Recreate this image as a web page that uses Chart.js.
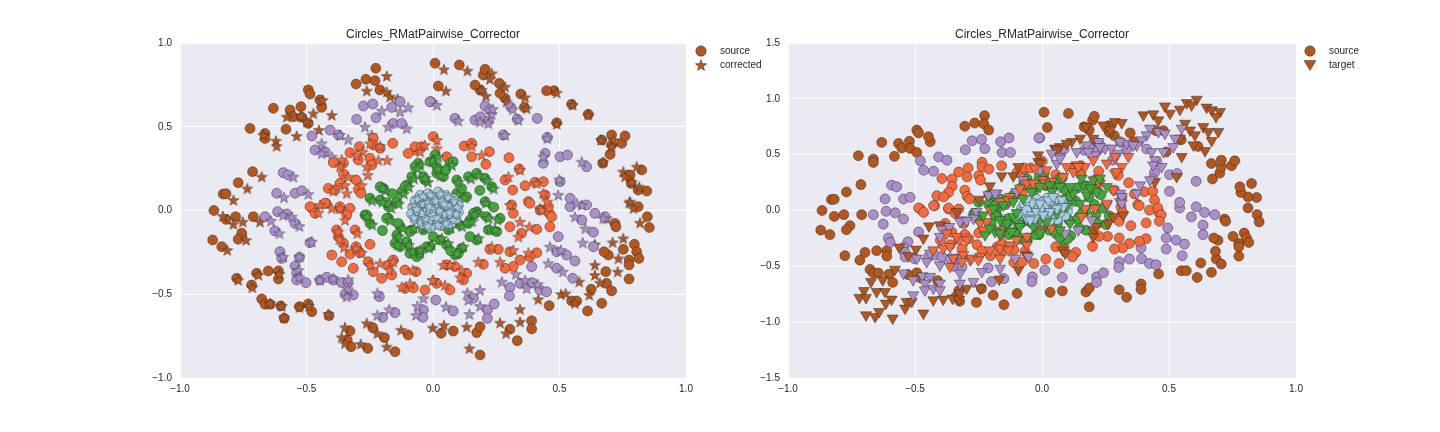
<!DOCTYPE html>
<html>
<head>
<meta charset="utf-8">
<script src="https://cdn.jsdelivr.net/npm/chart.js@4.4.1/dist/chart.umd.min.js"></script>
<style>
  html, body { margin: 0; padding: 0; background: #fff; }
  #wrap { position: relative; width: 1440px; height: 432px; overflow: hidden; }
  .box { position: absolute; top: 0; width: 720px; height: 432px; }
  .legend { position: absolute; font: 10px "Liberation Sans", Arial, sans-serif; color: #262626; }
  .legend .row { position: relative; height: 14px; line-height: 14px; padding-left: 27px; }
  .legend canvas { position: absolute; left: 0; top: 0; }
</style>
</head>
<body>
<div id="wrap">
  <div class="box" style="left:0"><canvas id="leftChart" width="720" height="432"></canvas></div>
  <div class="box" style="left:720px"><canvas id="rightChart" width="720" height="432"></canvas></div>
  <div class="legend" id="leftLegend" style="left:693px; top:44px"></div>
  <div class="legend" id="rightLegend" style="left:1302px; top:44px"></div>
</div>
<script>
// ==== ticks ====
const xTicks = [-1.0, -0.5, 0.0, 0.5, 1.0];
const yTicksLeft = [-1.0, -0.5, 0.0, 0.5, 1.0];
const yTicksRight = [-1.5, -1.0, -0.5, 0.0, 0.5, 1.0, 1.5];
const chartTitle = "Circles_RMatPairwise_Corrector";

// ==== source (circles, same on both panels) ====
const srcBrown = [
  [-0.226,0.849],[-0.304,0.755],[-0.265,0.783],[-0.229,0.775],[-0.21,0.72],
  [-0.493,0.72],[-0.486,0.695],[-0.522,0.62],[-0.44,0.616],[-0.447,0.66],
  [-0.631,0.61],[-0.565,0.6],[-0.552,0.56],[-0.519,0.556],[-0.493,0.52],
  [-0.581,0.485],[-0.723,0.49],[-0.664,0.46],[-0.664,0.43],[-0.713,0.232],
  [-0.77,0.166],[-0.829,0.098],[-0.818,0.1],[-0.866,0.0],[-0.818,-0.053],
  [-0.78,-0.037],[-0.71,-0.037],[-0.871,-0.176],[-0.835,-0.216],[-0.756,-0.136],
  [-0.77,-0.172],[-0.776,-0.405],[-0.697,-0.375],[-0.717,-0.445],[-0.651,-0.361],
  [-0.611,-0.361],[-0.611,-0.409],[-0.677,-0.528],[-0.664,-0.56],[-0.644,-0.56],
  [-0.602,-0.57],[-0.588,-0.644],[-0.528,-0.574],[-0.493,-0.558],[-0.479,-0.604],
  [-0.411,-0.628],[-0.328,-0.719],[-0.339,-0.773],[-0.324,-0.813],[-0.258,-0.823],
  [-0.238,-0.7],[-0.192,-0.759],[-0.15,-0.843],[-0.098,-0.743],[0.032,-0.733],
  [0.08,-0.72],[0.173,-0.729],[0.186,-0.694],[0.186,-0.863],[0.304,-0.709],
  [0.333,-0.777],[0.39,-0.658],[0.39,-0.707],[0.459,-0.568],[0.548,-0.54],
  [0.568,-0.54],[0.611,-0.6],[0.667,-0.554],[0.625,-0.47],[0.686,-0.435],
  [0.706,-0.48],[0.683,-0.365],[0.775,-0.409],[0.775,-0.296],[0.775,-0.325],
  [0.693,-0.266],[0.676,-0.246],[0.796,-0.202],[0.805,-0.246],[0.814,-0.286],
  [0.752,-0.232],[0.719,-0.077],[0.723,-0.097],[0.847,-0.037],[0.855,-0.102],
  [0.811,0.023],[0.845,0.116],[0.811,0.122],[0.783,0.162],[0.779,0.212],
  [0.825,0.242],[0.671,0.282],[0.7,0.335],[0.706,0.391],[0.746,0.401],
  [0.759,0.445],[0.706,0.451],[0.667,0.421],[0.489,0.524],[0.614,0.574],
  [0.548,0.634],[0.478,0.715],[0.449,0.715],[0.361,0.616],[0.347,0.695],
  [0.285,0.67],[0.265,0.7],[0.262,0.759],[0.186,0.72],[0.166,0.749],
  [0.199,0.809],[0.206,0.843],[0.104,0.869],[0.008,0.879],[0.021,0.743]
];
const srcPurple = [
  [-0.275,0.624],[-0.302,0.544],[-0.238,0.636],[-0.225,0.554],[-0.163,0.616],
  [-0.13,0.65],[-0.157,0.52],[-0.124,0.52],[-0.407,0.48],[-0.479,0.445],
  [-0.374,0.451],[-0.466,0.361],[-0.427,0.351],[-0.592,0.226],[-0.572,0.212],
  [-0.618,0.103],[-0.545,0.103],[-0.519,0.118],[-0.009,0.65],[-0.664,-0.037],
  [-0.614,-0.007],[-0.578,-0.021],[-0.545,-0.077],[-0.625,-0.122],[-0.486,-0.192],
  [-0.605,-0.246],[-0.598,-0.286],[-0.528,-0.28],[-0.545,-0.331],[-0.539,-0.375],
  [-0.539,-0.415],[-0.502,-0.431],[-0.447,-0.415],[-0.42,-0.399],[-0.394,-0.415],
  [-0.361,-0.431],[-0.335,-0.431],[-0.348,-0.5],[-0.315,-0.504],[-0.212,-0.514],
  [-0.199,-0.638],[-0.15,-0.61],[-0.038,-0.594],[-0.04,-0.638],[0.011,-0.534],
  [0.08,-0.6],[0.16,-0.524],[0.215,-0.594],[0.215,-0.644],[0.242,-0.558],
  [0.304,-0.459],[0.302,-0.51],[0.344,-0.435],[0.392,-0.431],[0.423,-0.475],
  [0.449,-0.485],[0.39,-0.335],[0.495,-0.156],[0.489,-0.246],[0.528,-0.266],
  [0.561,-0.301],[0.489,-0.345],[0.552,-0.405],[0.634,-0.13],[0.634,-0.216],
  [0.588,-0.057],[0.607,0.033],[0.64,-0.017],[0.68,-0.037],[0.542,0.023],
  [0.206,0.624],[0.225,0.6],[0.308,0.616],[0.333,0.546],[0.412,0.55],
  [0.087,0.55],[0.166,0.54],[0.188,0.56],[0.219,0.534],[0.278,0.451],
  [0.452,0.437],[0.443,0.341],[0.436,0.282],[0.502,0.321],[0.532,0.331],
  [0.607,0.261],[0.502,0.172],[0.542,0.073],[-0.012,0.65]
];
const srcOrange = [
  [-0.236,0.431],[-0.236,0.391],[-0.209,0.371],[-0.291,0.381],[-0.328,0.345],
  [-0.295,0.301],[-0.249,0.312],[-0.242,0.272],[-0.394,0.286],[-0.354,0.282],
  [-0.354,0.218],[-0.368,0.162],[-0.304,0.182],[-0.295,0.126],[-0.285,0.103],
  [-0.414,0.132],[-0.387,0.122],[-0.423,0.043],[-0.479,0.013],[-0.368,0.013],
  [-0.328,0.013],[-0.159,0.401],[-0.071,0.361],[-0.098,0.341],[-0.071,0.381],
  [-0.045,0.381],[0.001,0.441],[0.123,0.385],[0.153,0.401],[0.054,0.321],
  [0.153,0.321],[0.223,0.351],[0.209,0.276],[0.3,0.315],[0.341,0.248],
  [0.285,0.182],[0.315,0.122],[0.364,0.148],[0.403,0.168],[0.436,0.172],
  [0.443,0.093],[0.377,0.053],[0.311,0.033],[0.46,-0.017],[0.423,0.003],
  [0.317,-0.017],[0.383,0.043],[0.456,0.023],[0.469,-0.037],[0.462,-0.097],
  [0.304,-0.097],[0.35,-0.136],[0.41,-0.112],[0.41,-0.252],[0.383,-0.276],
  [0.344,-0.296],[0.304,-0.246],[0.317,-0.335],[0.285,-0.345],[0.258,-0.232],
  [0.225,-0.232],[0.199,-0.321],[0.133,-0.375],[0.12,-0.415],[0.087,-0.335],
  [0.054,-0.325],[0.067,-0.475],[0.015,-0.435],[-0.486,0.023],[-0.427,0.043],
  [-0.466,-0.017],[-0.381,-0.116],[-0.374,-0.156],[-0.354,-0.196],[-0.308,-0.116],
  [-0.304,-0.216],[-0.328,-0.26],[-0.289,-0.252],[-0.4,-0.266],[-0.361,-0.306],
  [-0.315,-0.345],[-0.249,-0.202],[-0.256,-0.306],[-0.236,-0.365],[-0.203,-0.405],
  [-0.176,-0.325],[-0.157,-0.296],[-0.163,-0.385],[-0.111,-0.355],[-0.067,-0.365],
  [-0.111,-0.465],[-0.078,-0.461],[-0.032,-0.475],[-0.368,0.023],[-0.341,-0.027]
];
const srcGreen = [
  [-0.058,0.282],[-0.012,0.291],[0.067,0.282],[0.08,0.291],[0.008,0.331],
  [-0.084,0.202],[-0.032,0.182],[0.015,0.222],[0.041,0.202],[0.094,0.182],
  [0.14,0.202],[0.173,0.222],[0.206,0.192],[0.232,0.142],[-0.196,0.132],
  [-0.249,0.073],[-0.209,0.063],[-0.124,0.112],[-0.104,0.152],[-0.176,0.023],
  [-0.143,0.053],[-0.269,-0.027],[-0.249,-0.077],[-0.176,-0.047],[-0.13,-0.097],
  [-0.143,-0.146],[-0.15,-0.196],[-0.104,-0.196],[-0.091,-0.256],[-0.058,-0.266],
  [-0.012,-0.216],[0.028,-0.176],[0.054,-0.206],[0.087,-0.266],[0.113,-0.226],
  [0.061,-0.116],[0.107,-0.087],[0.146,-0.057],[0.173,-0.007],[0.206,0.053],
  [0.212,-0.037],[0.219,-0.116],[0.173,-0.176],[0.146,-0.156],[0.265,-0.047],
  [0.094,0.103],[0.133,0.082],[0.113,0.132],[-0.038,-0.116],[-0.084,-0.116],
  [0.16,-0.017],[0.252,-0.126],[0.1,-0.256],[0.14,-0.077],[-0.209,0.142],
  [-0.183,0.047],[-0.111,0.142],[-0.071,0.262],[-0.038,0.202],[0.015,0.262],
  [-0.262,-0.027],[-0.183,-0.047],[-0.137,-0.077],[-0.13,-0.216],[-0.104,-0.186],
  [-0.058,-0.246],[-0.025,-0.216],[-0.064,-0.276],[-0.091,-0.126],[0.001,-0.156],
  [-0.16,0.1],[0.05,0.24],[0.185,0.12],[0.24,0.02],[0.07,-0.24],[-0.2,-0.12]
];
const srcBlue = [
  [-0.08,0.02],[-0.07,0.06],[-0.05,0.09],[-0.02,0.1],[0.02,0.11],
  [0.05,0.09],[0.08,0.07],[0.1,0.03],[0.1,-0.01],[0.09,-0.05],
  [0.06,-0.08],[0.03,-0.09],[-0.01,-0.1],[-0.04,-0.08],[-0.07,-0.05],
  [-0.085,-0.02],[-0.05,0.03],[-0.03,0.06],[0.0,0.07],[0.04,0.05],
  [0.06,0.02],[0.05,-0.03],[0.02,-0.05],[-0.02,-0.06],[-0.05,-0.03],
  [-0.02,0.0],[0.01,0.02],[0.03,-0.01],[-0.01,0.04],[0.07,-0.02],
  [-0.06,0.0],[0.0,-0.03]
];

// ==== corrected (stars, left panel) ====
const corBrown = [
  [-0.183,0.803],[-0.262,0.715],[-0.183,0.709],[-0.17,0.68],[-0.14,0.667],
  [-0.436,0.66],[-0.473,0.58],[-0.4,0.57],[-0.578,0.56],[-0.522,0.563],
  [-0.499,0.53],[-0.451,0.481],[-0.539,0.445],[-0.621,0.417],[-0.618,0.385],
  [-0.671,0.451],[-0.677,0.202],[-0.734,0.132],[-0.789,0.063],[-0.831,-0.033],
  [-0.789,-0.081],[-0.752,-0.067],[-0.684,-0.067],[-0.813,-0.236],[-0.739,-0.176],
  [-0.77,-0.415],[-0.714,-0.459],[-0.69,-0.385],[-0.607,-0.379],[-0.644,-0.554],
  [-0.598,-0.57],[-0.589,-0.638],[-0.528,-0.578],[-0.49,-0.57],[-0.414,-0.618],
  [-0.348,-0.697],[-0.361,-0.757],[-0.348,-0.793],[-0.286,-0.797],[-0.262,-0.673],
  [-0.22,-0.733],[-0.183,-0.813],[-0.126,-0.713],[-0.001,-0.7],[0.043,-0.684],
  [0.133,-0.694],[0.144,-0.823],[0.265,-0.67],[0.289,-0.733],[0.344,-0.589],
  [0.344,-0.664],[0.416,-0.53],[0.506,-0.5],[0.524,-0.495],[0.561,-0.554],
  [0.618,-0.504],[0.578,-0.425],[0.64,-0.325],[0.64,-0.385],[0.66,-0.431],
  [0.73,-0.365],[0.71,-0.19],[0.64,-0.202],[0.733,-0.286],[0.752,-0.166],
  [0.686,-0.047],[0.818,-0.073],[0.776,0.047],[0.043,0.843],[0.136,0.835],
  [0.232,0.819],[0.225,0.785],[0.051,0.715],[0.192,0.72],[0.209,0.684],
  [0.285,0.739],[0.291,0.65],[0.364,0.676],[0.37,0.61],[0.489,0.703],
  [0.552,0.63],[0.614,0.57],[0.489,0.516],[0.664,0.421],[0.713,0.421],
  [0.706,0.381],[0.673,0.291],[0.752,0.232],[0.805,0.262],[0.759,0.202],
  [0.785,0.172],[0.815,0.142],[0.779,0.053],[0.792,0.013]
];
const corPurple = [
  [-0.203,0.596],[-0.098,0.616],[-0.13,0.59],[-0.269,0.5],[-0.177,0.5],
  [-0.104,0.49],[-0.242,0.451],[-0.368,0.451],[-0.335,0.425],[-0.44,0.401],
  [-0.44,0.341],[-0.4,0.321],[-0.552,0.202],[-0.493,0.098],[-0.589,0.079],
  [0.015,0.63],[-0.64,-0.061],[-0.592,-0.027],[-0.558,-0.037],[-0.528,-0.093],
  [-0.607,-0.136],[-0.479,-0.186],[-0.592,-0.276],[-0.528,-0.276],[-0.532,-0.355],
  [-0.528,-0.399],[-0.447,-0.415],[-0.394,-0.405],[-0.335,-0.411],[-0.335,-0.47],
  [-0.341,-0.514],[-0.22,-0.494],[-0.22,-0.624],[-0.173,-0.59],[-0.067,-0.624],
  [-0.062,-0.57],[-0.038,-0.524],[0.051,-0.574],[0.136,-0.491],[0.14,-0.534],
  [0.186,-0.475],[0.144,-0.618],[0.186,-0.57],[0.272,-0.425],[0.328,-0.379],
  [0.364,-0.415],[0.414,-0.439],[0.37,-0.465],[0.462,-0.216],[0.456,-0.315],
  [0.513,-0.365],[0.505,-0.236],[0.561,-0.037],[0.592,-0.192],[0.602,-0.107],
  [0.588,0.033],[0.673,-0.047],[0.1,0.536],[0.186,0.53],[0.232,0.576],
  [0.219,0.52],[0.236,0.606],[0.285,0.451],[0.315,0.604],[0.337,0.54],
  [0.452,0.431],[0.436,0.321],[0.588,0.291],[0.499,0.186],[0.495,0.093],
  [0.568,0.043]
];
const corOrange = [
  [-0.249,0.401],[-0.209,0.385],[-0.278,0.351],[-0.361,0.305],[-0.302,0.331],
  [-0.216,0.301],[-0.181,0.301],[-0.368,0.262],[-0.262,0.262],[-0.335,0.202],
  [-0.258,0.212],[-0.348,0.152],[-0.282,0.152],[-0.394,0.118],[-0.341,0.103],
  [-0.447,0.033],[-0.4,0.013],[-0.032,0.391],[-0.051,0.351],[0.153,0.385],
  [0.015,0.421],[0.015,0.371],[0.192,0.331],[0.344,0.242],[0.41,0.162],
  [0.298,0.202],[0.436,0.103],[0.423,0.013],[0.452,0.053],[0.304,0.033],
  [0.344,-0.067],[0.381,-0.097],[0.337,-0.156],[0.377,-0.252],[0.317,-0.236],
  [0.265,-0.306],[0.232,-0.216],[0.179,-0.306],[0.113,-0.355],[0.107,-0.399],
  [0.067,-0.325],[0.041,-0.325],[0.001,-0.415],[0.047,-0.445],[0.43,0.003],
  [-0.453,-0.013],[-0.368,0.013],[-0.348,-0.057],[-0.374,-0.126],[-0.37,-0.172],
  [-0.352,-0.22],[-0.299,-0.136],[-0.304,-0.226],[-0.282,-0.252],[-0.249,-0.325],
  [-0.209,-0.315],[-0.157,-0.306],[-0.173,-0.355],[-0.124,-0.455],[-0.091,-0.435],
  [-0.001,-0.415],[-0.08,-0.355]
];
const corGreen = [
  [-0.05,0.27],[0.0,0.3],[0.075,0.27],[0.02,0.32],[-0.075,0.19],
  [-0.02,0.17],[0.03,0.21],[0.1,0.17],[0.15,0.19],[0.18,0.21],
  [0.215,0.18],[0.24,0.13],[-0.19,0.12],[-0.24,0.06],[-0.2,0.05],
  [-0.115,0.1],[-0.095,0.14],[-0.165,0.015],[-0.135,0.04],[-0.26,-0.035],
  [-0.24,-0.085],[-0.17,-0.06],[-0.12,-0.105],[-0.135,-0.155],[-0.14,-0.205],
  [-0.095,-0.205],[-0.08,-0.245],[-0.05,-0.255],[-0.005,-0.205],[0.035,-0.165],
  [0.06,-0.195],[0.095,-0.255],[0.12,-0.215],[0.07,-0.105],[0.115,-0.095],
  [0.155,-0.065],[0.18,-0.015],[0.21,0.045],[0.22,-0.045],[0.225,-0.105],
  [0.18,-0.165],[0.255,-0.055],[0.1,0.095],[0.125,0.075],[-0.03,-0.105],
  [-0.075,-0.105],[0.165,-0.025],[0.245,-0.115],[-0.2,0.135],[-0.06,0.25],
  [-0.03,0.195],[0.02,0.25],[-0.05,-0.235],[-0.015,-0.225]
];
const corBlue = [
  [-0.07,0.03],[-0.06,0.07],[-0.04,0.085],[-0.01,0.095],[0.03,0.1],
  [0.06,0.08],[0.085,0.055],[0.095,0.02],[0.09,-0.02],[0.08,-0.055],
  [0.05,-0.075],[0.02,-0.085],[-0.02,-0.09],[-0.05,-0.07],[-0.075,-0.04],
  [-0.04,0.04],[-0.02,0.05],[0.01,0.06],[0.045,0.04],[0.045,-0.02],
  [0.015,-0.04],[-0.03,-0.045],[-0.045,-0.015],[0.0,0.01],[0.025,0.0],
  [-0.015,0.025],[0.065,-0.01],[-0.065,0.01]
];

// ==== target (down triangles, right panel) ====
const tgtBrown = [
  [0.609,0.995],[0.57,0.965],[0.589,0.945],[0.648,0.924],[0.668,0.9],
  [0.701,0.885],[0.685,0.84],[0.484,0.935],[0.504,0.87],[0.543,0.906],
  [0.399,0.855],[0.438,0.864],[0.458,0.81],[0.563,0.78],[0.635,0.75],
  [0.583,0.72],[0.655,0.706],[0.694,0.706],[0.602,0.676],[0.668,0.625],
  [0.596,0.586],[0.642,0.535],[0.55,0.482],[0.543,0.646],[0.287,0.795],
  [0.314,0.786],[0.248,0.75],[0.268,0.72],[0.15,0.646],[0.117,0.616],
  [0.071,0.571],[0.051,0.557],[0.202,0.646],[0.173,0.75],[0.241,0.765],
  [0.058,0.542],[0.097,0.601],[-0.015,0.497],[-0.015,0.437],[-0.093,0.392],
  [-0.113,0.309],[-0.159,0.309],[-0.205,0.219],[-0.247,0.1],[-0.336,-0.011],
  [-0.445,-0.139],[-0.402,-0.13],[-0.467,-0.249],[-0.562,-0.329],[-0.496,-0.347],
  [-0.526,-0.407],[-0.579,-0.527],[-0.673,-0.637],[-0.651,-0.727],[-0.701,-0.718],
  [-0.719,-0.78],[-0.693,-0.78],[-0.627,-0.622],[-0.618,-0.727],[-0.592,-0.795],
  [-0.615,-0.831],[-0.693,-0.936],[-0.657,-0.951],[-0.641,-0.906],[-0.588,-0.965],
  [-0.533,-0.816],[-0.513,-0.816],[-0.539,-0.876],[-0.467,-0.92],[-0.428,-0.801],
  [-0.389,-0.795],[-0.352,-0.786],[-0.326,-0.795],[-0.323,-0.741],[-0.297,-0.697],
  [-0.244,-0.697],[-0.168,-0.616],[-0.093,-0.533],[-0.06,-0.398],[0.081,-0.354],
  [0.091,-0.383],[0.202,-0.175],[0.215,-0.145],[0.202,-0.235],[0.261,-0.115],
  [0.32,-0.04],[0.281,-0.055],[0.445,0.258],[0.53,0.303],[-0.008,0.423]
];
const tgtPurple = [
  [0.425,0.736],[0.412,0.676],[0.458,0.706],[0.484,0.691],[0.524,0.646],
  [0.55,0.736],[0.517,0.571],[0.392,0.631],[0.373,0.586],[0.432,0.526],
  [0.478,0.526],[0.445,0.452],[0.471,0.392],[0.438,0.407],[0.425,0.273],
  [0.386,0.228],[0.307,0.154],[0.307,0.079],[0.222,0.616],[0.176,0.586],
  [0.137,0.526],[0.071,0.482],[0.058,0.423],[0.248,0.557],[0.274,0.557],
  [0.3,0.512],[0.333,0.601],[0.209,0.497],[-0.008,0.363],[-0.074,0.273],
  [-0.1,0.168],[-0.178,0.154],[-0.211,0.139],[-0.257,-0.011],[-0.185,0.154],
  [-0.27,-0.07],[-0.316,-0.085],[-0.395,-0.168],[-0.365,-0.145],[-0.323,-0.1],
  [-0.297,-0.091],[-0.441,-0.383],[-0.454,-0.458],[-0.493,-0.428],[-0.402,-0.488],
  [-0.546,-0.562],[-0.507,-0.622],[-0.471,-0.586],[-0.441,-0.592],[-0.461,-0.652],
  [-0.461,-0.712],[-0.428,-0.697],[-0.402,-0.652],[-0.402,-0.712],[-0.507,-0.757],
  [-0.323,-0.652],[-0.27,-0.637],[-0.237,-0.548],[-0.323,-0.562],[-0.349,-0.428],
  [-0.165,-0.518],[-0.106,-0.428],[-0.054,-0.413],[-0.402,-0.234],[0.091,-0.204],
  [0.196,-0.085],[0.143,-0.175],[0.314,0.124],[0.373,0.154],[0.314,0.064],
  [0.255,0.049],[0.182,0.526],[0.228,0.571],[0.307,0.616],[0.359,0.586],
  [0.071,0.467],[0.038,0.512]
];
const tgtOrange = [
  [-0.389,-0.339],[-0.362,-0.503],[-0.349,-0.428],[-0.31,-0.398],[-0.283,-0.443],
  [-0.244,-0.413],[-0.205,-0.354],[-0.165,-0.339],[-0.126,-0.309],[-0.1,-0.264],
  [-0.06,-0.309],[-0.296,-0.264],[-0.336,-0.234],[-0.375,-0.204],[-0.244,-0.115],
  [-0.205,0.004],[-0.165,0.079],[-0.126,0.124],[-0.074,0.154],[-0.06,0.244],
  [0.005,0.273],[0.038,0.258],[0.084,0.303],[0.137,0.407],[0.169,0.392],
  [0.202,0.452],[0.255,0.423],[0.287,0.333],[0.228,0.244],[0.281,0.184],
  [0.255,0.064],[0.209,0.019],[0.169,0.019],[0.156,-0.055],[0.038,-0.16],
  [-0.008,-0.175],[-0.06,-0.234],[-0.165,-0.175],[-0.231,-0.175],[-0.428,-0.354],
  [0.018,0.363],[0.123,0.348],[-0.087,0.199],[-0.362,-0.324],[-0.316,-0.458],
  [-0.277,-0.428],[-0.251,-0.443],[-0.165,-0.428],[-0.133,-0.354],[-0.218,-0.1],
  [-0.165,-0.219],[-0.008,-0.19],[0.097,0.392],[0.143,0.392],[0.287,0.482],
  [0.34,0.482],[0.314,0.392],[0.294,0.348],[0.222,0.258],[0.012,0.244],
  [-0.028,0.378],[-0.034,0.244],[-0.133,0.094]
];
const tgtGreen = [
  [-0.224,-0.219],[-0.185,-0.19],[-0.165,-0.085],[-0.139,-0.115],[-0.113,-0.055],
  [-0.087,-0.145],[-0.06,-0.085],[-0.034,-0.145],[-0.008,-0.085],[0.018,-0.1],
  [0.058,-0.025],[0.097,0.034],[0.123,0.154],[0.163,0.228],[0.202,0.273],
  [0.228,0.288],[0.156,0.288],[0.11,0.213],[0.071,0.213],[0.031,0.228],
  [-0.008,0.213],[-0.041,0.168],[-0.074,0.109],[-0.113,0.079],[-0.152,0.049],
  [-0.192,0.019],[-0.231,-0.04],[-0.165,-0.204],[0.176,0.139],[0.215,0.168],
  [0.15,0.064],[0.11,-0.115],[0.071,-0.175],[-0.008,-0.204],[0.255,0.213],
  [-0.205,-0.16],[-0.12,-0.19],[0.19,0.2],[0.04,0.17],[-0.1,-0.02]
];
const tgtBlue = [
  [-0.06,-0.07],[-0.041,-0.04],[-0.021,-0.011],[-0.001,0.019],[0.018,0.049],
  [0.038,0.079],[0.058,0.109],[0.078,0.094],[0.084,0.034],[0.058,0.019],
  [0.031,-0.011],[0.005,-0.04],[-0.028,-0.07],[-0.047,-0.085],[-0.008,0.064],
  [0.025,0.094],[0.044,0.124]
];

// ==== styles ====
const FONT = '"Liberation Sans", Arial, sans-serif';
const INK = '#262626';
const EDGE = 'rgba(35,35,35,0.75)';
const COL = {
  brown: '#b4571f',
  purple: '#ab8eca',
  orange: '#f56a3b',
  green: '#43a53a',
  blue: '#a6cde2'
};

const toXY = arr => arr.map(p => ({ x: p[0], y: p[1] }));
const fmtTick = v => (v < 0 ? '\u2212' : '') + Math.abs(v).toFixed(1);

// filled 5 point star drawn once per colour, used as pointStyle image
function makeStar(color, r) {
  const c = document.createElement('canvas');
  const s = Math.ceil(r * 2 + 2);
  c.width = s; c.height = s;
  const ctx = c.getContext('2d');
  const cx = s / 2, cy = s / 2 + 0.6, ri = r * 0.42;
  ctx.beginPath();
  for (let i = 0; i < 10; i++) {
    const rr = i % 2 === 0 ? r : ri;
    const a = -Math.PI / 2 + i * Math.PI / 5;
    const px = cx + rr * Math.cos(a), py = cy + rr * Math.sin(a);
    if (i === 0) ctx.moveTo(px, py); else ctx.lineTo(px, py);
  }
  ctx.closePath();
  ctx.fillStyle = color;
  ctx.fill();
  ctx.lineWidth = 0.6;
  ctx.strokeStyle = EDGE;
  ctx.stroke();
  return c;
}

function circleSet(label, data, color) {
  return {
    label, data: toXY(data),
    pointStyle: 'circle', pointRadius: 5,
    backgroundColor: color, borderColor: EDGE, borderWidth: 0.6
  };
}
function starSet(label, data, color) {
  return {
    label, data: toXY(data),
    pointStyle: makeStar(color, 5.8), pointRadius: 5.8,
    backgroundColor: color, borderColor: EDGE, borderWidth: 0.6
  };
}
function triSet(label, data, color) {
  return {
    label, data: toXY(data),
    pointStyle: 'triangle', rotation: 180, pointRadius: 6.4,
    backgroundColor: color, borderColor: EDGE, borderWidth: 0.6
  };
}

const plotBg = {
  id: 'plotBg',
  beforeDraw(chart) {
    const { ctx, chartArea: a } = chart;
    ctx.save();
    ctx.fillStyle = '#eaeaf2';
    ctx.fillRect(a.left, a.top, a.right - a.left, a.bottom - a.top);
    ctx.restore();
  }
};

function makeChart(id, datasets, yTicks, yWidth, padRight) {
  const ctx = document.getElementById(id).getContext('2d');
  return new Chart(ctx, {
    type: 'scatter',
    data: { datasets },
    options: {
      responsive: false,
      animation: false,
      events: [],
      layout: { padding: { left: 0, right: padRight, top: 0, bottom: 0 } },
      plugins: {
        legend: { display: false },
        tooltip: { enabled: false },
        title: {
          display: true, text: chartTitle, fullSize: false,
          color: INK, font: { family: FONT, size: 12, weight: 'normal' },
          padding: { top: 27, bottom: 1.6 }
        }
      },
      scales: {
        x: {
          type: 'linear', min: xTicks[0], max: xTicks[xTicks.length - 1],
          afterBuildTicks: s => { s.ticks = xTicks.map(v => ({ value: v })); },
          afterFit: s => { s.height = 54; },
          ticks: { callback: fmtTick, color: INK, font: { family: FONT, size: 10 }, padding: 5, maxRotation: 0 },
          grid: { color: '#ffffff', lineWidth: 1, drawTicks: false },
          border: { display: false }
        },
        y: {
          type: 'linear', min: yTicks[0], max: yTicks[yTicks.length - 1],
          afterBuildTicks: s => { s.ticks = yTicks.map(v => ({ value: v })); },
          afterFit: s => { s.width = yWidth; },
          ticks: { callback: fmtTick, color: INK, font: { family: FONT, size: 10 }, padding: 8 },
          grid: { color: '#ffffff', lineWidth: 1, drawTicks: false },
          border: { display: false }
        }
      }
    },
    plugins: [plotBg]
  });
}

// first dataset ends up on top
makeChart('leftChart', [
  starSet('corrected blue', corBlue, COL.blue),
  circleSet('source blue', srcBlue, COL.blue),
  starSet('corrected green', corGreen, COL.green),
  circleSet('source green', srcGreen, COL.green),
  starSet('corrected orange', corOrange, COL.orange),
  circleSet('source orange', srcOrange, COL.orange),
  starSet('corrected purple', corPurple, COL.purple),
  circleSet('source purple', srcPurple, COL.purple),
  starSet('corrected', corBrown, COL.brown),
  circleSet('source', srcBrown, COL.brown)
], yTicksLeft, 180, 34);

makeChart('rightChart', [
  triSet('target blue', tgtBlue, COL.blue),
  triSet('target green', tgtGreen, COL.green),
  triSet('target orange', tgtOrange, COL.orange),
  triSet('target purple', tgtPurple, COL.purple),
  triSet('target', tgtBrown, COL.brown),
  circleSet('source blue', srcBlue, COL.blue),
  circleSet('source green', srcGreen, COL.green),
  circleSet('source orange', srcOrange, COL.orange),
  circleSet('source purple', srcPurple, COL.purple),
  circleSet('source', srcBrown, COL.brown)
], yTicksRight, 68, 144);

// ==== legends ====
function legendIcon(kind) {
  const c = document.createElement('canvas');
  c.width = 16; c.height = 14;
  const ctx = c.getContext('2d');
  ctx.fillStyle = COL.brown;
  ctx.strokeStyle = EDGE;
  ctx.lineWidth = 0.6;
  if (kind === 'circle') {
    ctx.beginPath(); ctx.arc(8, 7, 5.2, 0, Math.PI * 2); ctx.fill(); ctx.stroke();
  } else if (kind === 'star') {
    ctx.drawImage(makeStar(COL.brown, 6), 8 - 7, 7 - 7);
  } else {
    ctx.beginPath(); ctx.moveTo(2, 2.5); ctx.lineTo(14, 2.5); ctx.lineTo(8, 12.5); ctx.closePath();
    ctx.fill(); ctx.stroke();
  }
  return c;
}
function buildLegend(id, items) {
  const el = document.getElementById(id);
  items.forEach(([kind, text]) => {
    const row = document.createElement('div');
    row.className = 'row';
    row.appendChild(legendIcon(kind));
    row.appendChild(document.createTextNode(text));
    el.appendChild(row);
  });
}
buildLegend('leftLegend', [['circle', 'source'], ['star', 'corrected']]);
buildLegend('rightLegend', [['circle', 'source'], ['tri', 'target']]);
</script>
</body>
</html>
